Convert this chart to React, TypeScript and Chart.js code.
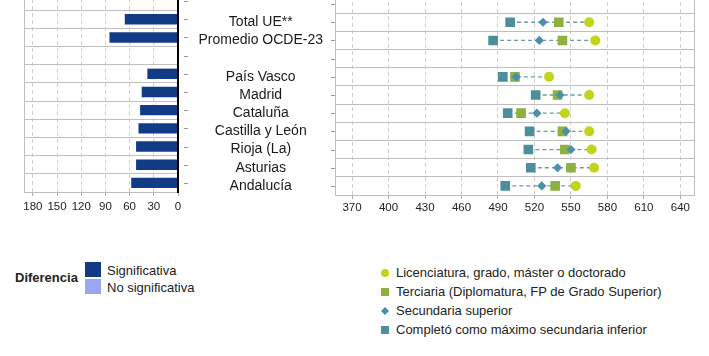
import React, { useEffect, useRef } from 'react';
import { Chart, registerables } from 'chart.js';

Chart.register(...registerables);

const FONT = "'Liberation Sans', Arial, Helvetica, sans-serif";
Chart.defaults.font.family = FONT;

// ---------- data ----------
const categories = [' ', 'Total UE**', 'Promedio OCDE-23', '  ', 'País Vasco', 'Madrid', 'Cataluña', 'Castilla y León', 'Rioja (La)', 'Asturias', 'Andalucía'];

const diferencia = [null, 66, 85, null, 38, 45, 47, 49, 52, 52, 58];
const diferenciaSignificativa = [false, true, true, false, true, true, true, true, true, true, true];

const licenciatura = [null, 565, 570, null, 532, 565, 545, 565, 567, 569, 554];
const terciaria = [null, 540, 543, null, 504, 539, 509, 543, 545, 550, 537];
const secundariaSuperior = [null, 527, 524, null, 505, 541, 522, 546, 550, 539, 526];
const secundariaInferior = [null, 500, 486, null, 494, 521, 498, 516, 515, 517, 496];

const leftTicks = [0, 30, 60, 90, 120, 150, 180];
const rightTicks = [370, 400, 430, 460, 490, 520, 550, 580, 610, 640];

const seriesNames = [
  'Licenciatura, grado, máster o doctorado',
  'Terciaria (Diplomatura, FP de Grado Superior)',
  'Secundaria superior',
  'Completó como máximo secundaria inferior',
];
const diferenciaNames = ['Significativa', 'No significativa'];

// ---------- styles ----------
const C_SIG = '#123b85';
const C_NOSIG = '#9ba5f1';
const C_LIC = '#c2d418';
const C_TER = '#8db03f';
const C_SUP = '#4a8fab';
const C_INF = '#4c8e99';
const C_CONN = '#6f9aa5';
const GRID_H = '#bfbfbf';
const GRID_V = '#cfcfcf';

const framePlugin = {
  id: 'frame',
  beforeDatasetsDraw(chart: any, _a: any, opts: any) {
    const { ctx, chartArea } = chart;
    const { left, right, top, bottom } = chartArea;
    ctx.save();
    ctx.strokeStyle = opts.color || GRID_H;
    ctx.lineWidth = 1;
    ctx.beginPath();
    if (opts.left) {
      ctx.moveTo(Math.round(left) + 0.5, top);
      ctx.lineTo(Math.round(left) + 0.5, bottom);
    }
    if (opts.right) {
      ctx.moveTo(Math.round(right) - 0.5, top);
      ctx.lineTo(Math.round(right) - 0.5, bottom);
    }
    ctx.stroke();
    ctx.restore();
  },
};

const rowTicksPlugin = {
  id: 'rowTicks',
  afterDraw(chart: any, _a: any, opts: any) {
    const { ctx, chartArea } = chart;
    const y = chart.scales.y;
    ctx.save();
    ctx.strokeStyle = opts.color || '#9a9a9a';
    ctx.lineWidth = 1;
    ctx.beginPath();
    for (let i = 0; i < y.ticks.length; i++) {
      const py = Math.round(y.getPixelForTick(i)) + 0.5;
      if (opts.side === 'right') {
        ctx.moveTo(chartArea.right + opts.gap, py);
        ctx.lineTo(chartArea.right + opts.gap + opts.len, py);
      } else {
        ctx.moveTo(chartArea.left - opts.gap - opts.len, py);
        ctx.lineTo(chartArea.left - opts.gap, py);
      }
    }
    ctx.stroke();
    ctx.restore();
  },
};

const zeroLinePlugin = {
  id: 'zeroLine',
  afterDatasetsDraw(chart: any) {
    const { ctx, chartArea } = chart;
    const x = chart.scales.x.getPixelForValue(0);
    ctx.save();
    ctx.strokeStyle = '#000';
    ctx.lineWidth = 2;
    ctx.beginPath();
    ctx.moveTo(x, chartArea.top);
    ctx.lineTo(x, chartArea.bottom + 1);
    ctx.stroke();
    ctx.restore();
  },
};

const noPad = (s: any) => {
  s.paddingTop = 0;
  s.paddingBottom = 0;
};

function LeftChart() {
  const ref = useRef<HTMLCanvasElement>(null);
  useEffect(() => {
    const chart = new Chart(ref.current as HTMLCanvasElement, {
      type: 'bar',
      data: {
        labels: categories,
        datasets: [
          {
            data: diferencia as any,
            backgroundColor: diferenciaSignificativa.map((s) => (s ? C_SIG : C_NOSIG)),
            barPercentage: 0.57,
            categoryPercentage: 1,
          },
        ],
      },
      plugins: [framePlugin, rowTicksPlugin, zeroLinePlugin],
      options: {
        indexAxis: 'y',
        animation: false,
        responsive: false,
        maintainAspectRatio: false,
        layout: { autoPadding: false, padding: { left: 24, right: 0, top: 0, bottom: 0 } },
        plugins: {
          legend: { display: false },
          tooltip: { enabled: false },
          frame: { left: true },
          rowTicks: { side: 'right', gap: 6, len: 4 },
        } as any,
        scales: {
          x: {
            type: 'linear',
            reverse: true,
            min: 0,
            max: 191,
            afterBuildTicks: (s: any) => {
              s.ticks = leftTicks.map((v) => ({ value: v }));
            },
            afterFit: (s: any) => {
              s.height = 30;
              s.paddingLeft = 0;
              s.paddingRight = 0;
            },
            grid: { color: GRID_V, lineWidth: 1, tickLength: 4, tickColor: '#aaa' },
            border: { display: false, dash: [4, 3] },
            ticks: { font: { size: 11.5 }, color: '#222', padding: 3.5, maxRotation: 0 },
          },
          y: {
            type: 'category',
            position: 'right',
            offset: true,
            grid: { offset: true, color: GRID_H, drawTicks: false },
            border: { display: false },
            ticks: { display: false },
            afterFit: (s: any) => {
              s.width = 12;
              noPad(s);
            },
          },
        },
      } as any,
    });
    return () => chart.destroy();
  }, []);
  return (
    <canvas
      ref={ref}
      width={190}
      height={230}
      style={{ position: 'absolute', left: 0, top: -8, width: 190, height: 230 }}
    />
  );
}

function RightChart() {
  const ref = useRef<HTMLCanvasElement>(null);
  useEffect(() => {
    const pts = (arr: (number | null)[]) =>
      arr
        .map((v, i) => (v == null ? null : { x: v, y: categories[i] }))
        .filter((p) => p !== null);
    const connectors = categories
      .map((c, i) => {
        const vals = [licenciatura[i], terciaria[i], secundariaSuperior[i], secundariaInferior[i]].filter(
          (v) => v != null
        ) as number[];
        if (!vals.length) return null;
        return {
          type: 'scatter',
          data: [
            { x: Math.min(...vals), y: c },
            { x: Math.max(...vals), y: c },
          ],
          showLine: true,
          borderColor: C_CONN,
          borderWidth: 1.3,
          borderDash: [4, 3],
          pointRadius: 0,
        };
      })
      .filter((d) => d !== null);

    const chart = new Chart(ref.current as HTMLCanvasElement, {
      type: 'scatter',
      data: {
        labels: categories,
        datasets: [
          {
            label: seriesNames[2],
            data: pts(secundariaSuperior),
            pointStyle: 'rectRot',
            pointRadius: 4.6,
            backgroundColor: C_SUP,
            borderColor: C_SUP,
            borderWidth: 0,
          },
          {
            label: seriesNames[3],
            data: pts(secundariaInferior),
            pointStyle: 'rect',
            pointRadius: 6.8,
            backgroundColor: C_INF,
            borderColor: C_INF,
            borderWidth: 0,
          },
          {
            label: seriesNames[1],
            data: pts(terciaria),
            pointStyle: 'rect',
            pointRadius: 6.8,
            backgroundColor: C_TER,
            borderColor: C_TER,
            borderWidth: 0,
          },
          {
            label: seriesNames[0],
            data: pts(licenciatura),
            pointStyle: 'circle',
            pointRadius: 5,
            backgroundColor: C_LIC,
            borderColor: C_LIC,
            borderWidth: 0,
          },
          ...connectors,
        ] as any,
      },
      plugins: [framePlugin, rowTicksPlugin],
      options: {
        animation: false,
        responsive: false,
        maintainAspectRatio: false,
        layout: { autoPadding: false, padding: { left: 0, right: 14, top: 0, bottom: 0 } },
        plugins: {
          legend: { display: false },
          tooltip: { enabled: false },
          frame: { right: true },
          rowTicks: { side: 'left', gap: 0, len: 4 },
        } as any,
        scales: {
          x: {
            type: 'linear',
            min: 356,
            max: 652,
            afterBuildTicks: (s: any) => {
              s.ticks = rightTicks.map((v) => ({ value: v }));
            },
            afterFit: (s: any) => {
              s.height = 30;
              s.paddingLeft = 0;
              s.paddingRight = 0;
            },
            grid: { color: GRID_V, lineWidth: 1, tickLength: 4, tickColor: '#aaa' },
            border: { display: false, dash: [4, 3] },
            ticks: { font: { size: 11.5 }, color: '#222', padding: 1.5, maxRotation: 0 },
          },
          y: {
            type: 'category',
            labels: categories,
            offset: true,
            grid: { offset: true, color: GRID_H, drawTicks: false },
            border: { display: true, color: GRID_H },
            ticks: { font: { size: 14 }, color: '#1a1a1a', crossAlign: 'center', padding: 12, autoSkip: false },
            afterFit: (s: any) => {
              s.width = 155;
              noPad(s);
            },
          },
        },
      } as any,
    });
    return () => chart.destroy();
  }, []);
  return (
    <canvas
      ref={ref}
      width={529}
      height={230}
      style={{ position: 'absolute', left: 180, top: -5, width: 529, height: 230 }}
    />
  );
}

function Marker({ kind, color }: { kind: string; color: string }) {
  return (
    <svg width={10} height={10} style={{ position: 'absolute', left: -16, top: 3 }}>
      {kind === 'circle' && <circle cx={5} cy={5} r={4} fill={color} />}
      {kind === 'square' && <rect x={1} y={1} width={8} height={8} fill={color} />}
      {kind === 'diamond' && <polygon points="5,1 9,5 5,9 1,5" fill={color} />}
    </svg>
  );
}

export default function App() {
  const rightLegend = [
    { name: seriesNames[0], kind: 'circle', color: C_LIC },
    { name: seriesNames[1], kind: 'square', color: C_TER },
    { name: seriesNames[2], kind: 'diamond', color: C_SUP },
    { name: seriesNames[3], kind: 'square', color: C_INF },
  ];
  return (
    <div
      style={{
        position: 'absolute',
        left: 0,
        top: 0,
        width: 709,
        height: 356,
        overflow: 'hidden',
        background: '#fff',
        fontFamily: FONT,
        color: '#222',
      }}
    >
      <LeftChart />
      <RightChart />

      {/* left legend */}
      <div style={{ position: 'absolute', left: 15, top: 270, fontSize: 13, fontWeight: 'bold', lineHeight: '16px' }}>
        Diferencia
      </div>
      {diferenciaNames.map((n, i) => (
        <div key={n}>
          <div
            style={{
              position: 'absolute',
              left: 85,
              top: 262 + i * 17,
              width: 16,
              height: 15,
              background: i === 0 ? C_SIG : C_NOSIG,
            }}
          />
          <div style={{ position: 'absolute', left: 107, top: 263 + i * 17, fontSize: 13, lineHeight: '16px' }}>{n}</div>
        </div>
      ))}

      {/* right legend */}
      {rightLegend.map((it, i) => (
        <div
          key={it.name}
          style={{ position: 'absolute', left: 396, top: 265 + i * 19, fontSize: 13, lineHeight: '16px', whiteSpace: 'nowrap' }}
        >
          <Marker kind={it.kind} color={it.color} />
          {it.name}
        </div>
      ))}
    </div>
  );
}
